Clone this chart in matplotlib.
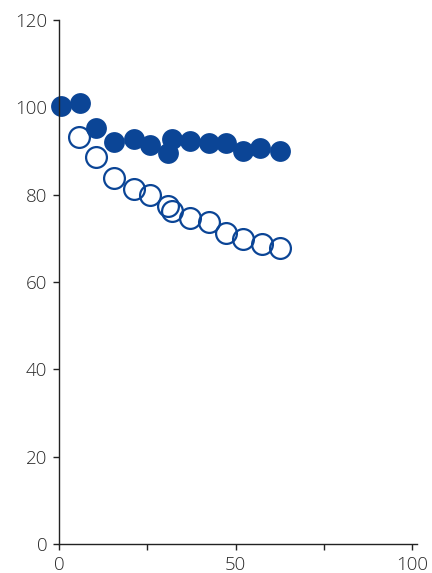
import numpy as np
import matplotlib.pyplot as plt

plt.rcParams['font.family'] = ['Open Sans', 'DejaVu Sans']

blue = '#0b4596'

# filled series
x_filled = [0.5, 5.9, 10.6, 15.5, 21.2, 25.7, 30.7, 32.0, 37.0, 42.5, 47.2, 52.0, 56.8, 62.6]
y_filled = [100.3, 101.0, 95.2, 92.1, 92.7, 91.4, 89.6, 92.7, 92.3, 91.8, 91.8, 90.1, 90.6, 90.1]

# open series
x_open = [5.6, 10.6, 15.5, 21.2, 25.7, 30.7, 32.0, 37.0, 42.5, 47.2, 52.0, 57.3, 62.6]
y_open = [93.1, 88.7, 83.9, 81.2, 79.9, 77.4, 76.3, 74.6, 73.8, 71.3, 69.8, 68.6, 67.8]

fig = plt.figure(figsize=(4.32, 5.73), dpi=100)
ax = fig.add_axes([0.1366, 0.0506, 0.828, 0.9145])

ax.plot(x_open, y_open, 'o', ms=15, mfc='none', mec=blue, mew=1.6, clip_on=False)
ax.plot(x_filled, y_filled, 'o', ms=15, mfc=blue, mec=blue, mew=0, clip_on=False)

ax.set_xlim(0, 101.2)
ax.set_ylim(0, 120)
ax.set_xticks([0, 25, 50, 75, 100])
ax.set_xticklabels(['0', '', '50', '', '100'])
ax.set_yticks(np.arange(0, 121, 20))

for s in ['top', 'right']:
    ax.spines[s].set_visible(False)
for s in ['left', 'bottom']:
    ax.spines[s].set_linewidth(1.0)
    ax.spines[s].set_color('#222222')
ax.tick_params(length=4.5, width=1.0, color='#222222', labelsize=13.5,
               labelcolor='#2a2a2a', pad=4)
for lab in ax.get_xticklabels() + ax.get_yticklabels():
    lab.set_fontweight('light')

fig.savefig('out.png', dpi=100)
